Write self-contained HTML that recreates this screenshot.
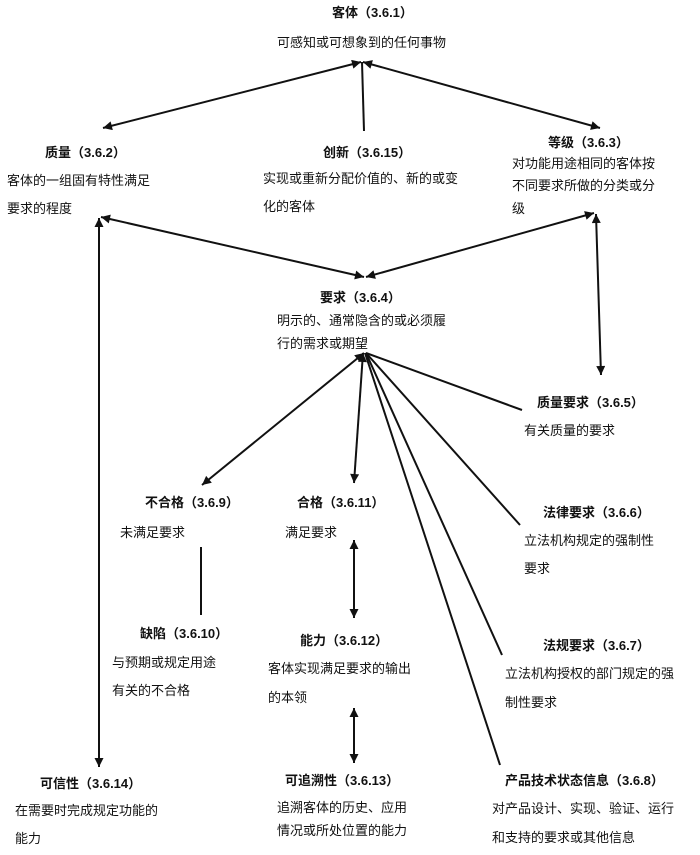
<!DOCTYPE html>
<html><head><meta charset="utf-8"><style>
html,body{margin:0;padding:0;background:#fff;}
svg{display:block;}
text{font-family:"Liberation Sans","Noto Sans CJK SC",sans-serif;font-size:13px;fill:#111;}
.b{font-weight:bold;}
line{stroke:#111;stroke-width:2;}
</style></head><body>
<svg width="700" height="855" viewBox="0 0 700 855" xmlns="http://www.w3.org/2000/svg">
<defs>
<marker id="a" viewBox="0 0 10 10" refX="10" refY="5" markerWidth="7" markerHeight="4.5" orient="auto-start-reverse" markerUnits="strokeWidth">
<path d="M0,0 L10,5 L0,10 z" fill="#111"/></marker>
</defs>
<text class="b" x="332" y="17">客体（3.6.1）</text>
<text x="277" y="47">可感知或可想象到的任何事物</text>
<line x1="361" y1="62" x2="103" y2="128" marker-start="url(#a)" marker-end="url(#a)"/>
<line x1="362" y1="62" x2="364" y2="131"/>
<line x1="363" y1="62" x2="600" y2="128" marker-start="url(#a)" marker-end="url(#a)"/>

<text class="b" x="45" y="157">质量（3.6.2）</text>
<text x="7" y="185">客体的一组固有特性满足</text>
<text x="7" y="213">要求的程度</text>
<text class="b" x="323" y="157">创新（3.6.15）</text>
<text x="263" y="183">实现或重新分配价值的、新的或变</text>
<text x="263" y="211">化的客体</text>
<text class="b" x="548" y="147">等级（3.6.3）</text>
<text x="512" y="168">对功能用途相同的客体按</text>
<text x="512" y="190">不同要求所做的分类或分</text>
<text x="512" y="213">级</text>

<line x1="101" y1="217" x2="364" y2="277" marker-start="url(#a)" marker-end="url(#a)"/>
<line x1="594" y1="213" x2="366" y2="277" marker-start="url(#a)" marker-end="url(#a)"/>
<line x1="596" y1="214" x2="601" y2="375" marker-start="url(#a)" marker-end="url(#a)"/>
<line x1="99" y1="218" x2="99" y2="767" marker-start="url(#a)" marker-end="url(#a)"/>

<text class="b" x="320" y="302">要求（3.6.4）</text>
<text x="277" y="325">明示的、通常隐含的或必须履</text>
<text x="277" y="348">行的需求或期望</text>

<line x1="364" y1="353" x2="202" y2="485" marker-start="url(#a)" marker-end="url(#a)"/>
<line x1="363" y1="353" x2="354" y2="483" marker-start="url(#a)" marker-end="url(#a)"/>
<line x1="366" y1="353" x2="522" y2="410"/>
<line x1="366" y1="353" x2="520" y2="525"/>
<line x1="366" y1="353" x2="502" y2="655"/>
<line x1="365" y1="353" x2="500" y2="765"/>

<text class="b" x="537" y="407">质量要求（3.6.5）</text>
<text x="524" y="435">有关质量的要求</text>

<text class="b" x="145" y="507">不合格（3.6.9）</text>
<text x="120" y="537">未满足要求</text>
<line x1="201" y1="547" x2="201" y2="615"/>
<text class="b" x="140" y="638">缺陷（3.6.10）</text>
<text x="112" y="667">与预期或规定用途</text>
<text x="112" y="695">有关的不合格</text>

<text class="b" x="297" y="507">合格（3.6.11）</text>
<text x="285" y="537">满足要求</text>
<line x1="354" y1="540" x2="354" y2="618" marker-start="url(#a)" marker-end="url(#a)"/>
<text class="b" x="300" y="645">能力（3.6.12）</text>
<text x="268" y="673">客体实现满足要求的输出</text>
<text x="268" y="702">的本领</text>
<line x1="354" y1="708" x2="354" y2="763" marker-start="url(#a)" marker-end="url(#a)"/>
<text class="b" x="285" y="785">可追溯性（3.6.13）</text>
<text x="277" y="812">追溯客体的历史、应用</text>
<text x="277" y="835">情况或所处位置的能力</text>

<text class="b" x="40" y="788">可信性（3.6.14）</text>
<text x="15" y="815">在需要时完成规定功能的</text>
<text x="15" y="843">能力</text>

<text class="b" x="543" y="517">法律要求（3.6.6）</text>
<text x="524" y="545">立法机构规定的强制性</text>
<text x="524" y="573">要求</text>
<text class="b" x="543" y="650">法规要求（3.6.7）</text>
<text x="505" y="678">立法机构授权的部门规定的强</text>
<text x="505" y="707">制性要求</text>
<text class="b" x="505" y="785">产品技术状态信息（3.6.8）</text>
<text x="492" y="813">对产品设计、实现、验证、运行</text>
<text x="492" y="842">和支持的要求或其他信息</text>
</svg>
</body></html>
